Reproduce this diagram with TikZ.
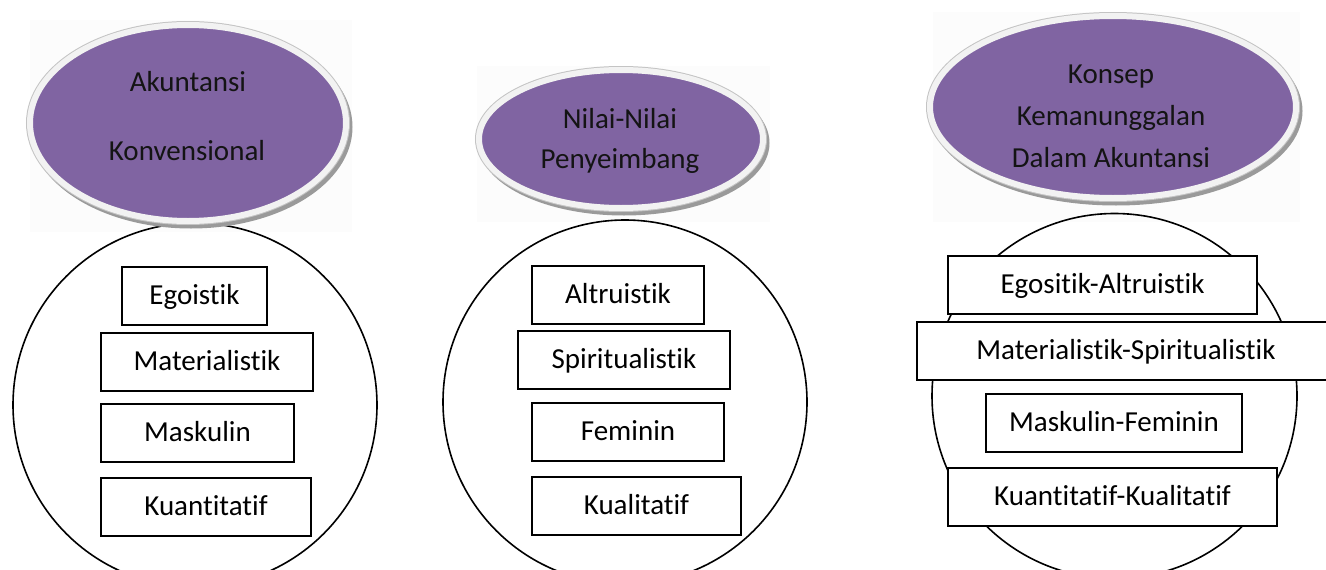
\documentclass[tikz,border=0pt]{standalone}
\usepackage{fontspec}
\setmainfont{Carlito}[RawFeature={-liga;-clig}]
\usetikzlibrary{shapes.geometric}
\definecolor{ellpurple}{HTML}{8064A2}
\definecolor{rimc}{HTML}{F2F2F2}
\definecolor{rimline}{HTML}{C4C4C4}
\definecolor{shadc}{HTML}{9A9A9A}
\definecolor{txtc}{HTML}{141414}
\tikzset{
  x=1pt, y=-1pt,
  bigcircle/.style={circle, draw=black, line width=1.6pt, inner sep=0pt, minimum size=#1},
  itembox/.style={rectangle, draw=black, line width=1.8pt, fill=white, inner sep=0pt,
    font=\fontsize{29pt}{35pt}\selectfont, text=black, text height=20pt, text depth=4pt},
  purpleell/.style={ellipse, inner sep=0pt,
    preaction={draw=shadc, fill=shadc, line width=7pt, transform canvas={xshift=3pt,yshift=-4pt}},
    preaction={draw=rimline, line width=8pt},
    fill=ellpurple, draw=rimc, line width=6pt},
  elltext/.style={anchor=base, inner sep=0pt, text=txtc, font=\fontsize{29pt}{35pt}\selectfont},
  faintbg/.style={fill=black!1, draw=none}
}
\begin{document}
\begin{tikzpicture}
\useasboundingbox (0,0) rectangle (1326,570);
\fill[white] (0,0) rectangle (1326,570);

% faint picture backgrounds
\fill[faintbg] (30,20) rectangle (352,232);
\fill[faintbg] (477,66) rectangle (770,222);
\fill[faintbg] (933,12) rectangle (1300,222);

% circles
\node[bigcircle=364pt] (c1) at (195,405) {};
\node[bigcircle=364pt] (c2) at (625,402) {};
\node[bigcircle=365pt] (c3) at (1114.5,396) {};

% ellipses
\node[purpleell, minimum width=316pt, minimum height=196pt] (e1) at (188,123) {};
\node[purpleell, minimum width=284pt, minimum height=138pt] (e2) at (621,139) {};
\node[purpleell, minimum width=366pt, minimum height=182pt] (e3) at (1113,107) {};

\node[elltext] (e1a) at (188,91) {Akuntansi};
\node[elltext] (e1b) at (187,160) {Konvensional};
\node[elltext] (e2a) at (620,128) {Nilai-Nilai};
\node[elltext] (e2b) at (620,168) {Penyeimbang};
\node[elltext] (e3a) at (1111,83) {Konsep};
\node[elltext] (e3b) at (1111,125) {Kemanunggalan};
\node[elltext] (e3c) at (1111,167) {Dalam Akuntansi};

% boxes, circle 1
\node[itembox, minimum width=145pt, minimum height=58pt] (b11) at (194.5,296) {Egoistik};
\node[itembox, minimum width=212pt, minimum height=58pt] (b12) at (207,362) {Materialistik};
\node[itembox, minimum width=193pt, minimum height=58pt] (b13) at (197.5,433) {Maskulin};
\node[itembox, minimum width=210pt, minimum height=58pt] (b14) at (206,507) {Kuantitatif};

% boxes, circle 2
\node[itembox, minimum width=172pt, minimum height=58pt] (b21) at (618,295) {Altruistik};
\node[itembox, minimum width=212pt, minimum height=58pt] (b22) at (624,360) {Spiritualistik};
\node[itembox, minimum width=192pt, minimum height=58pt] (b23) at (628,432) {Feminin};
\node[itembox, minimum width=209pt, minimum height=58pt] (b24) at (636.5,506) {Kualitatif};

% boxes, circle 3
\node[itembox, minimum width=309pt, minimum height=58pt] (b31) at (1102.5,285) {Egositik-Altruistik};
\node[itembox, minimum width=418pt, minimum height=58pt] (b32) at (1126,351) {Materialistik-Spiritualistik};
\node[itembox, minimum width=256pt, minimum height=58pt] (b33) at (1114,423) {Maskulin-Feminin};
\node[itembox, minimum width=329pt, minimum height=58pt] (b34) at (1112.5,497) {Kuantitatif-Kualitatif};
\end{tikzpicture}
\end{document}
